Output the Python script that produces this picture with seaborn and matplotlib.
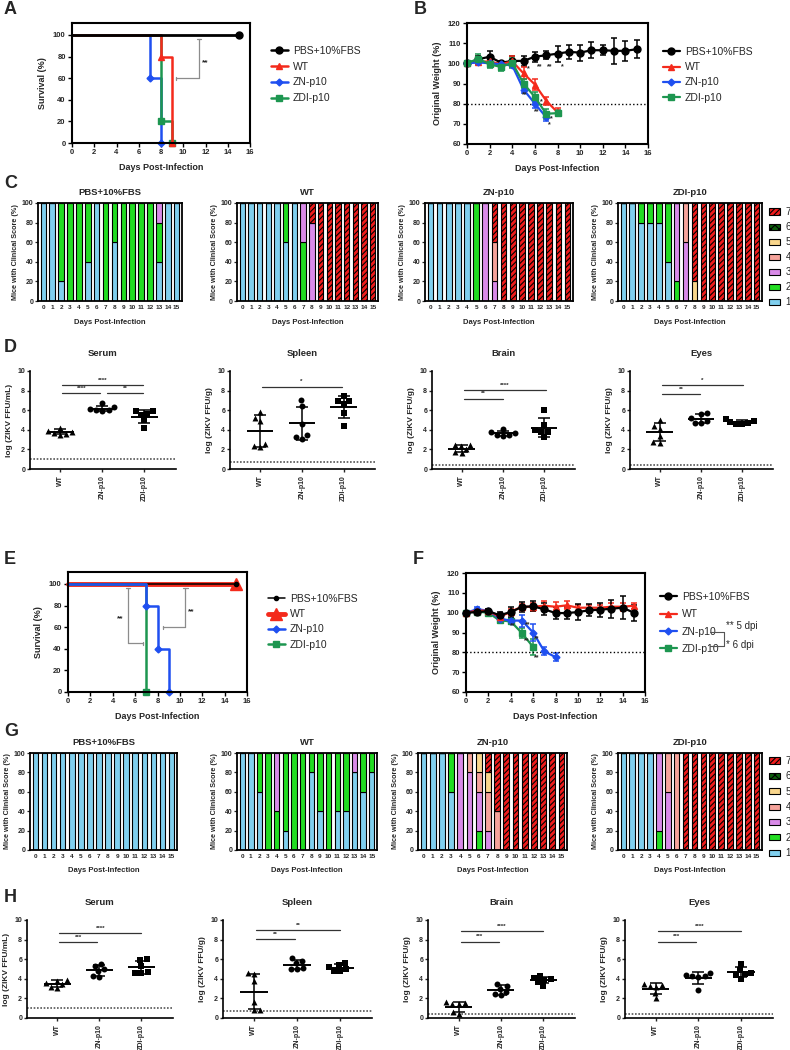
import numpy as np
import pandas as pd
import matplotlib.pyplot as plt
import seaborn as sns
from matplotlib.lines import Line2D
from matplotlib.patches import Patch

# ---------------- data ----------------
groups = ['PBS+10%FBS', 'WT', 'ZN-p10', 'ZDI-p10']
virus_groups = ['WT', 'ZN-p10', 'ZDI-p10']

# A / E survival (%), step points
a_pbs_day, a_pbs_surv = [0, 15], [100, 100]
a_wt_day, a_wt_surv = [0, 8, 9], [100, 80, 0]
a_zn_day, a_zn_surv = [0, 7, 8], [100, 60, 0]
a_zdi_day, a_zdi_surv = [0, 8, 9], [100, 20, 0]

e_pbs_day, e_pbs_surv = [0, 15], [100, 100]
e_wt_day, e_wt_surv = [0, 15], [100, 100]
e_zn_day, e_zn_surv = [0, 7, 8, 9], [100, 80, 40, 0]
e_zdi_day, e_zdi_surv = [0, 7], [100, 0]

# B / F weight (% of original), mean and SD per day from day 0
b_pbs_mean = [100, 102, 103.3, 100.3, 101.2, 101.2, 103.3, 104, 104.8, 105.7, 105.3, 106.5, 106.5, 106.2, 106.2, 107]
b_pbs_sd = [0.5, 1.5, 3, 1, 2.5, 2.5, 2.5, 2, 4, 3.5, 4, 4, 2.5, 6.5, 5, 4.5]
b_wt_mean = [100, 100.7, 101, 99.5, 101, 95, 89.5, 81.5, 75.7]
b_wt_sd = [0.5, 1, 1.5, 1.5, 2.5, 3, 2.5, 2, 2]
b_zn_mean = [100, 100.5, 100, 99.5, 99, 87, 80, 73.3]
b_zn_sd = [0.5, 1, 1, 1, 1, 1.5, 2, 2]
b_zdi_mean = [100, 102.3, 99.5, 98.2, 100.3, 90, 83.3, 75, 75.3]
b_zdi_sd = [0.5, 2.5, 2, 2, 2.5, 2, 2.5, 2.5, 1.5]

f_pbs_mean = [100, 100.3, 100.8, 98.7, 100.3, 102.9, 103.2, 101.7, 99.8, 99.8, 100.3, 101.2, 101.5, 102, 102.5, 100]
f_pbs_sd = [1, 1, 1, 1.5, 2.5, 2.5, 2.5, 3, 3, 3, 4, 3, 3.5, 4.5, 5.7, 4]
f_wt_mean = [100, 101, 101, 97.8, 100.5, 103, 103, 103.5, 103, 103.7, 102.5, 102.5, 102.5, 103, 103, 103.5]
f_wt_sd = [0.5, 1, 1, 1.5, 1.5, 1.5, 2, 2.5, 2.5, 2, 1.5, 1.5, 1.5, 2, 2, 1.5]
f_zn_mean = [100, 101.7, 101, 97, 96, 96, 90, 80.5, 77.6]
f_zn_sd = [0.5, 1, 1, 1.5, 1.5, 3, 4.5, 2, 2]
f_zdi_mean = [100, 100.5, 100, 96.1, 95.6, 89.7, 82.7]
f_zdi_sd = [0.5, 0.5, 0.5, 1.5, 1.5, 2.5, 4]

# C / G clinical scores: % of mice with each score, days 0-15
days = list(range(16))
c_pbs = {1: [100, 100, 20, 0, 0, 40, 100, 0, 60, 0, 0, 0, 0, 40, 100, 100],
         2: [0, 0, 80, 100, 100, 60, 0, 100, 40, 100, 100, 100, 100, 40, 0, 0],
         3: [0, 0, 0, 0, 0, 0, 0, 0, 0, 0, 0, 0, 0, 20, 0, 0]}
c_wt = {1: [100, 100, 100, 100, 100, 60, 100, 0, 0, 0, 0, 0, 0, 0, 0, 0],
        2: [0, 0, 0, 0, 0, 40, 0, 60, 0, 0, 0, 0, 0, 0, 0, 0],
        3: [0, 0, 0, 0, 0, 0, 0, 40, 80, 0, 0, 0, 0, 0, 0, 0],
        7: [0, 0, 0, 0, 0, 0, 0, 0, 20, 100, 100, 100, 100, 100, 100, 100]}
c_zn = {1: [100, 100, 100, 100, 100, 0, 0, 0, 0, 0, 0, 0, 0, 0, 0, 0],
        2: [0, 0, 0, 0, 0, 100, 0, 0, 0, 0, 0, 0, 0, 0, 0, 0],
        3: [0, 0, 0, 0, 0, 0, 100, 20, 0, 0, 0, 0, 0, 0, 0, 0],
        4: [0, 0, 0, 0, 0, 0, 0, 40, 0, 0, 0, 0, 0, 0, 0, 0],
        7: [0, 0, 0, 0, 0, 0, 0, 40, 100, 100, 100, 100, 100, 100, 100, 100]}
c_zdi = {1: [100, 100, 80, 80, 80, 40, 0, 0, 0, 0, 0, 0, 0, 0, 0, 0],
         2: [0, 0, 20, 20, 20, 60, 20, 0, 0, 0, 0, 0, 0, 0, 0, 0],
         3: [0, 0, 0, 0, 0, 0, 80, 60, 0, 0, 0, 0, 0, 0, 0, 0],
         4: [0, 0, 0, 0, 0, 0, 0, 40, 0, 0, 0, 0, 0, 0, 0, 0],
         5: [0, 0, 0, 0, 0, 0, 0, 0, 20, 0, 0, 0, 0, 0, 0, 0],
         7: [0, 0, 0, 0, 0, 0, 0, 0, 80, 100, 100, 100, 100, 100, 100, 100]}
g_pbs = {1: [100, 100, 100, 100, 100, 100, 100, 100, 100, 100, 100, 100, 100, 100, 100, 100]}
g_wt = {1: [100, 100, 60, 0, 0, 20, 0, 0, 80, 40, 0, 40, 40, 80, 60, 80],
        2: [0, 0, 40, 100, 40, 80, 100, 100, 20, 60, 100, 60, 60, 0, 40, 20],
        3: [0, 0, 0, 0, 60, 0, 0, 0, 0, 0, 0, 0, 0, 20, 0, 0]}
g_zn = {1: [100, 100, 100, 60, 0, 0, 0, 0, 0, 0, 0, 0, 0, 0, 0, 0],
        2: [0, 0, 0, 40, 0, 0, 20, 0, 0, 0, 0, 0, 0, 0, 0, 0],
        3: [0, 0, 0, 0, 100, 80, 40, 20, 0, 0, 0, 0, 0, 0, 0, 0],
        4: [0, 0, 0, 0, 0, 20, 20, 40, 40, 0, 0, 0, 0, 0, 0, 0],
        5: [0, 0, 0, 0, 0, 0, 20, 20, 0, 0, 0, 0, 0, 0, 0, 0],
        7: [0, 0, 0, 0, 0, 0, 0, 20, 60, 100, 100, 100, 100, 100, 100, 100]}
g_zdi = {1: [100, 100, 100, 100, 0, 0, 0, 0, 0, 0, 0, 0, 0, 0, 0, 0],
         2: [0, 0, 0, 0, 20, 0, 0, 0, 0, 0, 0, 0, 0, 0, 0, 0],
         3: [0, 0, 0, 0, 80, 60, 0, 0, 0, 0, 0, 0, 0, 0, 0, 0],
         4: [0, 0, 0, 0, 0, 40, 100, 0, 0, 0, 0, 0, 0, 0, 0, 0],
         7: [0, 0, 0, 0, 0, 0, 0, 100, 100, 100, 100, 100, 100, 100, 100, 100]}

# D / H viral titres, log(ZIKV FFU)
d_serum = ([4.2, 3.9, 3.8, 3.7, 3.6, 3.5], [6.7, 6.3, 6.1, 6.0, 6.0, 5.9], [5.9, 5.9, 5.6, 5.5, 5.0, 4.2])
d_spleen = ([5.8, 5.2, 4.9, 2.6, 2.3, 2.2], [7.0, 6.4, 4.6, 3.5, 3.3, 3.1], [7.4, 6.9, 6.6, 5.7, 4.4, 6.9])
d_brain = ([2.5, 2.4, 2.3, 2.0, 1.7, 1.6], [4.1, 3.8, 3.7, 3.5, 3.5, 3.4], [6.0, 4.5, 4.0, 3.8, 3.8, 3.3])
d_eyes = ([5.0, 4.4, 4.1, 3.4, 2.8, 2.7], [5.7, 5.6, 5.2, 4.9, 4.7, 4.7], [5.1, 4.9, 4.8, 4.7, 4.6, 4.6])
h_serum = ([3.9, 3.8, 3.6, 3.5, 3.2, 3.1], [5.5, 5.3, 5.0, 4.8, 4.3, 4.2], [6.0, 5.9, 5.3, 4.7, 4.6, 4.6])
h_spleen = ([4.6, 4.5, 3.8, 1.6, 0.8, 0.8], [6.1, 5.8, 5.6, 5.1, 5.0, 5.0], [5.6, 5.4, 5.2, 5.0, 4.8, 4.8])
h_brain = ([1.6, 1.5, 1.4, 1.4, 0.6, 0.4], [3.5, 3.3, 3.0, 2.7, 2.4, 2.3], [4.3, 4.1, 4.0, 3.9, 3.7, 3.3])
h_eyes = ([3.5, 3.4, 3.3, 3.2, 2.6, 2.0], [4.6, 4.4, 4.3, 4.3, 4.2, 2.9], [5.5, 4.9, 4.6, 4.5, 4.4, 4.0])
lod_serum, lod_spleen, lod_brain, lod_eyes = 1.0, 0.7, 0.4, 0.4

# ---------------- style ----------------
sns.set_theme(style="ticks")
plt.rcParams['font.family'] = ['Liberation Sans', 'DejaVu Sans']
plt.rcParams['font.weight'] = 'bold'
plt.rcParams['axes.labelweight'] = 'bold'
plt.rcParams['axes.titleweight'] = 'bold'
plt.rcParams['hatch.linewidth'] = 0.8

col = {'PBS+10%FBS': 'black', 'WT': '#f42a1c', 'ZN-p10': '#1f4ff0', 'ZDI-p10': '#1d9650'}
mk = {'PBS+10%FBS': 'o', 'WT': '^', 'ZN-p10': 'D', 'ZDI-p10': 's'}
score_col = {1: '#80cfee', 2: '#22dd22', 3: '#d98ae8', 4: '#f6a39b', 5: '#f9d68c', 6: '#0d5e0d', 7: '#ee1c1c'}
score_hatch = {6: 'xxxx', 7: '//////'}

W, H = 790, 1050
fig = plt.figure(figsize=(7.9, 10.5), dpi=100)


def add_ax(l, t, r, b):
    return fig.add_axes([l / W, 1 - b / H, (r - l) / W, (b - t) / H])


def fx(x):
    return x / W


def fy(y):
    return 1 - y / H


def frame(ax, ylim, yticks):
    ax.set_xlim(0, 16)
    ax.set_ylim(*ylim)
    ax.set_xticks(range(0, 17, 2))
    ax.set_yticks(yticks)
    for s in ax.spines.values():
        s.set_linewidth(1.5)
        s.set_color('black')
    ax.tick_params(labelsize=5.5, width=1, length=3, pad=1.5, color='black')
    ax.set_xlabel('Days Post-Infection', fontsize=6.5, labelpad=5)


def legend(ax, handles, x, y, spacing):
    ax.legend(handles, groups, loc='upper left', bbox_to_anchor=(fx(x), fy(y)),
              bbox_transform=fig.transFigure, frameon=False,
              prop={'weight': 'normal', 'size': 7.5}, handlelength=1.6,
              handletextpad=0.5, labelspacing=spacing, borderpad=0, borderaxespad=0)


def bracket(ax, xv, xh, ytop, ybot, text, tx, ty):
    g = '#8c8c8c'
    ax.plot([xv - 0.2, xv + 0.2], [ytop, ytop], color=g, lw=0.9)
    ax.plot([xv, xv], [ytop, ybot], color=g, lw=0.9)
    ax.plot([xh, xv], [ybot, ybot], color=g, lw=0.9)
    ax.plot([xh, xh], [ybot - 1.5, ybot + 1.5], color=g, lw=0.9)
    ax.text(tx, ty, text, fontsize=6, ha='center', va='center')


def stars(ax, items):
    for x, y, t in items:
        ax.text(x, y, t, fontsize=5, ha='center', va='center')


# ---------------- A ----------------
ax = add_ax(72, 23, 250, 143)
ax.plot(a_pbs_day, a_pbs_surv, drawstyle='steps-post', color='black', lw=2, marker='o', ms=5, markevery=[1], clip_on=False, zorder=3)
ax.plot(a_zn_day, a_zn_surv, drawstyle='steps-post', color=col['ZN-p10'], lw=1.8, marker='D', ms=3.5, markevery=[1, 2], clip_on=False)
ax.plot(a_zdi_day, a_zdi_surv, drawstyle='steps-post', color=col['ZDI-p10'], lw=1.8, marker='s', ms=5, markevery=[1, 2], clip_on=False)
ax.plot(a_wt_day, a_wt_surv, drawstyle='steps-post', color=col['WT'], lw=1.8, marker='^', ms=5, markevery=[1, 2], clip_on=False)
frame(ax, (0, 111), range(0, 101, 20))
ax.set_ylabel('Survival (%)', fontsize=6.5)
bracket(ax, 11.4, 9.35, 96, 60, '**', 12.0, 74)
hA = [Line2D([], [], color=col[g], lw=1.8, marker=mk[g], ms=5 if g != 'ZN-p10' else 3.5) for g in groups]
legend(ax, hA, 271, 46, 0.55)

# ---------------- B ----------------
ax = add_ax(467, 23, 648, 144)
for g, m, s in [('PBS+10%FBS', b_pbs_mean, b_pbs_sd), ('WT', b_wt_mean, b_wt_sd),
                ('ZN-p10', b_zn_mean, b_zn_sd), ('ZDI-p10', b_zdi_mean, b_zdi_sd)]:
    ax.errorbar(np.arange(len(m)), m, yerr=s, color=col[g], marker=mk[g], ms=5 if g != 'ZN-p10' else 3.5,
                lw=1.6, capsize=2.2, elinewidth=1.1, capthick=1.1, clip_on=False)
ax.axhline(80, color='black', ls=':', lw=1)
frame(ax, (60, 120), range(60, 121, 10))
ax.set_ylabel('Original Weight (%)', fontsize=6.5)
stars(ax, [(5.4, 97.5, '*'), (6.45, 98.5, '**'), (7.3, 98.5, '**'), (8.4, 98.5, '*'),
           (5.1, 84.5, '**'), (6.6, 81, '*'), (6.2, 76, '**'), (7.5, 72.5, '*'), (7.3, 69.5, '*')])
hB = [Line2D([], [], color=col[g], lw=1.6, marker=mk[g], ms=5 if g != 'ZN-p10' else 3.5) for g in groups]
legend(ax, hB, 663, 47, 0.5)

# ---------------- E ----------------
ax = add_ax(68, 572, 247, 692)
ax.plot(e_wt_day, e_wt_surv, drawstyle='steps-post', color=col['WT'], lw=3.5, marker='^', ms=9, markevery=[1], clip_on=False)
ax.plot(e_pbs_day, e_pbs_surv, drawstyle='steps-post', color='black', lw=1.1, marker='o', ms=3, markevery=[1], clip_on=False)
ax.plot(e_zdi_day, e_zdi_surv, drawstyle='steps-post', color=col['ZDI-p10'], lw=1.8, marker='s', ms=5, markevery=[1], clip_on=False)
ax.plot(e_zn_day, e_zn_surv, drawstyle='steps-post', color=col['ZN-p10'], lw=1.8, marker='D', ms=3.5, markevery=[1, 2, 3], clip_on=False)
frame(ax, (0, 111), range(0, 101, 20))
ax.set_ylabel('Survival (%)', fontsize=6.5)
bracket(ax, 5.36, 6.67, 96, 45, '**', 4.65, 68)
bracket(ax, 10.5, 8.46, 96, 60, '**', 11.05, 74)
hE = [Line2D([], [], color='black', lw=1.1, marker='o', ms=3),
      Line2D([], [], color=col['WT'], lw=3.5, marker='^', ms=9),
      Line2D([], [], color=col['ZN-p10'], lw=1.8, marker='D', ms=3.5),
      Line2D([], [], color=col['ZDI-p10'], lw=1.8, marker='s', ms=5)]
legend(ax, hE, 268, 594, 0.5)

# ---------------- F ----------------
ax = add_ax(466, 573, 645, 692)
for g, m, s in [('ZDI-p10', f_zdi_mean, f_zdi_sd), ('ZN-p10', f_zn_mean, f_zn_sd),
                ('WT', f_wt_mean, f_wt_sd), ('PBS+10%FBS', f_pbs_mean, f_pbs_sd)]:
    ax.errorbar(np.arange(len(m)), m, yerr=s, color=col[g], marker=mk[g], ms=5 if g != 'ZN-p10' else 3.5,
                lw=1.6, capsize=2.2, elinewidth=1.1, capthick=1.1, clip_on=False)
ax.axhline(80, color='black', ls=':', lw=1)
frame(ax, (60, 120), range(60, 121, 10))
ax.set_ylabel('Original Weight (%)', fontsize=6.5)
stars(ax, [(4.2, 93.5, '**'), (5.5, 94, '**'), (5.4, 86, '**'), (6.3, 87, '**'), (6.3, 77.5, '**')])
hF = [Line2D([], [], color=col[g], lw=1.6, marker=mk[g], ms=5 if g != 'ZN-p10' else 3.5) for g in groups]
legend(ax, hF, 660, 592, 0.7)
for xs, ys in [([710, 724], [632, 632]), ([724, 724], [632, 646]), ([710, 724], [646, 646])]:
    fig.add_artist(Line2D([fx(v) for v in xs], [fy(v) for v in ys], color='#555555', lw=0.8))
fig.text(fx(726), fy(626), '** 5 dpi', fontsize=7, weight='normal', va='center')
fig.text(fx(726), fy(645), '* 6 dpi', fontsize=7, weight='normal', va='center')


# ---------------- C / G stacked bars ----------------
def score_panel(box, title, data, pad):
    ax = add_ax(*box)
    bottom = np.zeros(len(days))
    for sc in range(1, 8):
        if sc not in data:
            continue
        vals = np.array(data[sc])
        ax.bar(days, vals, bottom=bottom, width=0.62, color=score_col[sc], edgecolor='black',
               lw=0.8, hatch=score_hatch.get(sc))
        bottom = bottom + vals
    ax.set_xlim(-0.6, 15.6)
    ax.set_ylim(0, 100)
    ax.set_xticks(days)
    ax.set_yticks(range(0, 101, 20))
    for s in ax.spines.values():
        s.set_linewidth(1.3)
        s.set_color('black')
    ax.tick_params(axis='y', labelsize=5, width=0.9, length=2.5, pad=1)
    ax.tick_params(axis='x', labelsize=4.6, width=0, length=0, pad=3)
    ax.set_title(title, fontsize=6.8, pad=pad)
    ax.set_xlabel('Days Post-Infection', fontsize=5.5, labelpad=6)
    ax.set_ylabel('Mice with Clinical Score (%)', fontsize=5.2, labelpad=2)
    return ax


score_handles = [Patch(facecolor=score_col[s], edgecolor='black', hatch=score_hatch.get(s), lw=0.8) for s in range(7, 0, -1)]
score_labels = [str(s) for s in range(7, 0, -1)]

for box, title, data in [((38, 203, 182, 301), 'PBS+10%FBS', c_pbs), ((237, 203, 378, 301), 'WT', c_wt),
                         ((425, 203, 573, 301), 'ZN-p10', c_zn), ((618, 203, 762, 301), 'ZDI-p10', c_zdi)]:
    ax = score_panel(box, title, data, 6)
ax.legend(score_handles, score_labels, loc='upper left', bbox_to_anchor=(fx(769), fy(207)),
          bbox_transform=fig.transFigure, frameon=False, prop={'weight': 'normal', 'size': 7},
          handlelength=1.1, handleheight=0.6, handletextpad=0.6, labelspacing=0.52, borderpad=0, borderaxespad=0)

for box, title, data in [((30, 753, 177, 850), 'PBS+10%FBS', g_pbs), ((237, 753, 377, 850), 'WT', g_wt),
                         ((418, 753, 567, 850), 'ZN-p10', g_zn), ((618, 753, 762, 850), 'ZDI-p10', g_zdi)]:
    ax = score_panel(box, title, data, 6)
ax.legend(score_handles, score_labels, loc='upper left', bbox_to_anchor=(fx(769), fy(756)),
          bbox_transform=fig.transFigure, frameon=False, prop={'weight': 'normal', 'size': 7},
          handlelength=1.1, handleheight=0.6, handletextpad=0.6, labelspacing=0.55, borderpad=0, borderaxespad=0)


# ---------------- D / H titres ----------------
def titre_panel(box, title, ylabel, values, lod, sig):
    ax = add_ax(*box)
    df = pd.DataFrame({'group': [g for g, v in zip(virus_groups, values) for _ in v],
                       'titre': [x for v in values for x in v]})
    for g, m in zip(virus_groups, ['^', 'o', 's']):
        sns.swarmplot(data=df[df['group'] == g], x='group', y='titre', order=virus_groups, marker=m,
                      color='black', size=4.3, ax=ax, clip_on=False)
    st = df.groupby('group')['titre'].agg(['mean', 'std']).reindex(virus_groups)
    xs = np.arange(len(virus_groups))
    ax.errorbar(xs, st['mean'], yerr=st['std'], fmt='none', ecolor='black', elinewidth=1.1,
                capsize=4, capthick=1.1, zorder=4)
    ax.hlines(st['mean'], xs - 0.32, xs + 0.32, color='black', lw=1.4, zorder=4)
    ax.axhline(lod, color='#555555', ls=(0, (1, 1)), lw=1.2)
    for x1, x2, y, t in sig:
        ax.plot([x1, x2], [y, y], color='#333333', lw=0.9)
        ax.text((x1 + x2) / 2, y + 0.25, t, fontsize=4.5, ha='center', va='bottom')
    ax.set_xlim(-0.72, 2.75)
    ax.set_ylim(0, 10)
    ax.set_yticks(range(0, 11, 2))
    sns.despine(ax=ax)
    for s in ['left', 'bottom']:
        ax.spines[s].set_linewidth(1.2)
        ax.spines[s].set_color('black')
    ax.tick_params(axis='y', labelsize=5, width=1, length=2.5, pad=1)
    ax.tick_params(axis='x', labelsize=5, width=1, length=2.5, pad=2, rotation=90)
    ax.set_xlabel('')
    ax.set_ylabel(ylabel, fontsize=6, labelpad=3)
    ax.set_title(title, fontsize=6.8, pad=11)
    return ax


titre_panel((30, 371, 176, 469), 'Serum', 'log (ZIKV FFU/mL)', d_serum, lod_serum,
            [(0.05, 1.97, 8.57, '****'), (0.05, 0.95, 7.72, '****'), (1.1, 1.97, 7.72, '**')])
titre_panel((230, 371, 375, 469), 'Spleen', 'log (ZIKV FFU/g)', d_spleen, lod_spleen,
            [(0.04, 1.95, 8.4, '*')])
titre_panel((432, 371, 575, 469), 'Brain', 'log (ZIKV FFU/g)', d_brain, lod_brain,
            [(0.05, 2.05, 8.06, '****'), (0.05, 1.0, 7.17, '**')])
titre_panel((630, 371, 773, 469), 'Eyes', 'log (ZIKV FFU/g)', d_eyes, lod_eyes,
            [(0.05, 2.02, 8.57, '*'), (0.05, 0.98, 7.65, '**')])

titre_panel((27, 920, 173, 1018), 'Serum', 'log (ZIKV FFU/mL)', h_serum, lod_serum,
            [(0.05, 2.0, 8.64, '****'), (0.05, 0.95, 7.72, '***')])
titre_panel((223, 920, 372, 1018), 'Spleen', 'log (ZIKV FFU/g)', h_spleen, lod_spleen,
            [(0.05, 2.0, 8.98, '**'), (0.05, 0.95, 8.06, '**')])
titre_panel((428, 920, 575, 1018), 'Brain', 'log (ZIKV FFU/g)', h_brain, lod_brain,
            [(0.05, 2.0, 8.88, '****'), (0.05, 0.95, 7.79, '***')])
titre_panel((625, 920, 773, 1018), 'Eyes', 'log (ZIKV FFU/g)', h_eyes, lod_eyes,
            [(0.05, 2.0, 8.88, '****'), (0.05, 0.95, 7.79, '***')])

# ---------------- panel letters ----------------
for letter, x, y in [('A', 4, 9), ('B', 414, 9), ('C', 4, 184), ('D', 4, 348),
                     ('E', 4, 560), ('F', 413, 560), ('G', 4, 732), ('H', 4, 897)]:
    fig.text(fx(x), fy(y), letter, fontsize=13, weight='bold', va='center', ha='left')

fig.savefig('out.png', dpi=100)
